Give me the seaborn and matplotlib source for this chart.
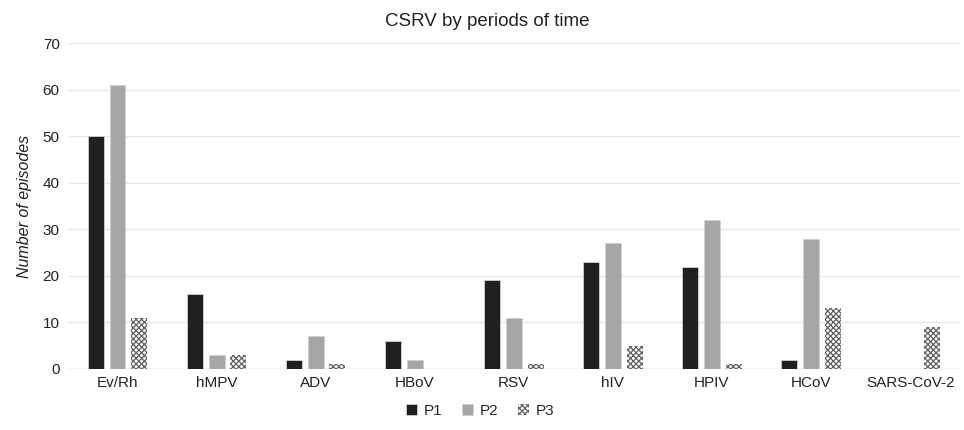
import numpy as np
import pandas as pd
import matplotlib
matplotlib.use('Agg')
import matplotlib.pyplot as plt
import seaborn as sns

# DATA
viruses = ['Ev/Rh', 'hMPV', 'ADV', 'HBoV', 'RSV', 'hIV', 'HPIV', 'HCoV', 'SARS-CoV-2']
periods = ['P1', 'P2', 'P3']
p1 = [50, 16, 2, 6, 19, 23, 22, 2, 0]
p2 = [61, 3, 7, 2, 11, 27, 32, 28, 0]
p3 = [11, 3, 1, 0, 1, 5, 1, 13, 9]

data = pd.DataFrame({
    'virus': viruses * 3,
    'period': ['P1'] * 9 + ['P2'] * 9 + ['P3'] * 9,
    'episodes': p1 + p2 + p3,
})

sns.set_style('white')
plt.rcParams['font.family'] = ['Liberation Sans', 'DejaVu Sans']
plt.rcParams['hatch.linewidth'] = 0.9

fig = plt.figure(figsize=(9.64, 4.3), dpi=100)
ax = fig.add_axes([0.0705, 0.142, 0.925, 0.758])

palette = {'P1': '#202020', 'P2': '#a6a6a6', 'P3': 'white'}
sns.barplot(data=data, x='virus', y='episodes', hue='period', hue_order=periods,
            palette=palette, width=0.66, gap=0.27, legend=False,
            edgecolor='#d0d0d0', linewidth=0.6, ax=ax)

# dotted pattern for P3
for bar in ax.containers[2]:
    bar.set_hatch('xxxxxx')
    bar.set_edgecolor('#606060')
    bar.set_linewidth(0)

ax.set_ylim(0, 70)
ax.set_yticks(np.arange(0, 71, 10))
ax.set_xlim(-0.5, 8.5)
ax.grid(axis='y', color='#e6e6e6', linewidth=1)
ax.set_axisbelow(True)
sns.despine(left=True, bottom=True)
ax.axhline(0, color='#d9d9d9', linewidth=1, zorder=0.5)
ax.tick_params(axis='both', length=0, labelsize=11, colors='#222222')
ax.tick_params(axis='y', pad=6)
ax.tick_params(axis='x', pad=5)
ax.set_xlabel('')
ax.set_ylabel('Number of episodes', fontsize=11.5, style='italic', color='#222222', labelpad=8)
ax.set_title('CSRV by periods of time', fontsize=13.5, color='#222222', pad=12, x=0.47)

ax.legend(ax.containers, periods, loc='upper center', bbox_to_anchor=(0.462, -0.065),
          ncol=3, frameon=False, fontsize=11, handlelength=0.75, handleheight=0.75,
          handletextpad=0.4, columnspacing=1.3)

plt.savefig('out.png', dpi=100)
